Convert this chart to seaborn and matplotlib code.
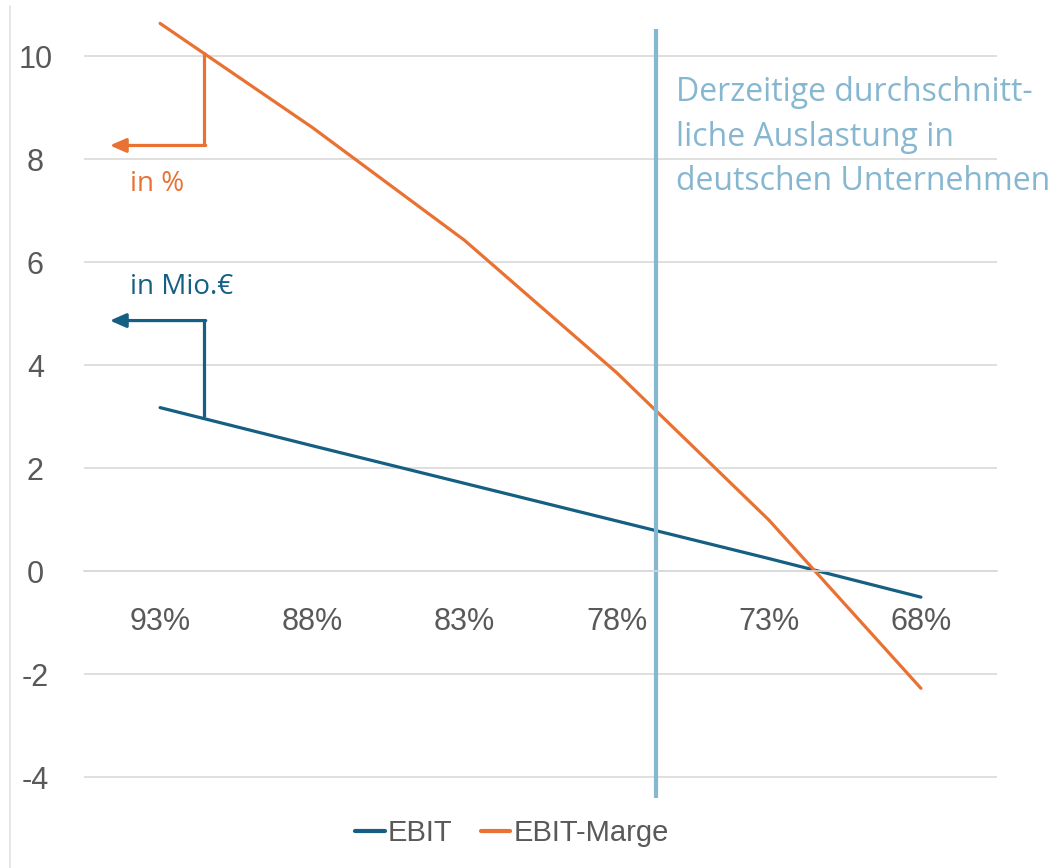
import matplotlib
matplotlib.use("Agg")
import matplotlib.pyplot as plt
from matplotlib.lines import Line2D
import pandas as pd
import seaborn as sns

# Daten
auslastung = ["93%", "88%", "83%", "78%", "73%", "68%"]
ebit = [3.18, 2.44, 1.71, 0.98, 0.25, -0.50]           # in Mio.€
ebit_marge = [10.64, 8.62, 6.43, 3.86, 1.00, -2.27]    # in %
aktuelle_auslastung = 3.26   # Position zwischen 78% und 73%

blau = "#156082"
orange = "#E97132"
hellblau = "#86B7D0"
grau = "#595959"

df = pd.DataFrame({
    "pos": list(range(len(auslastung))) * 2,
    "wert": ebit + ebit_marge,
    "serie": ["EBIT"] * len(ebit) + ["EBIT-Marge"] * len(ebit_marge),
})

sns.set_theme(style="white")
plt.rcParams["font.family"] = ["Liberation Sans", "DejaVu Sans"]

fig = plt.figure(figsize=(10.58, 8.68), dpi=100)
ax = fig.add_axes([84 / 1058, 70 / 868, 913 / 1058, 788 / 868])

sns.lineplot(data=df, x="pos", y="wert", hue="serie", palette=[blau, orange],
             linewidth=2.3, ax=ax, legend=False)

ax.set_xlim(-0.5, 5.5)
ax.set_ylim(-4.4, 10.9)
ax.set_yticks(range(-4, 11, 2))
ax.set_yticklabels([str(v) for v in range(-4, 11, 2)])
ax.set_xticks(range(len(auslastung)))
ax.set_xticklabels(auslastung)
ax.grid(axis="y", color="#d9d9d9", linewidth=1.2)
ax.set_axisbelow(True)
ax.set_xlabel("")
ax.set_ylabel("")
for s in ["top", "right", "left"]:
    ax.spines[s].set_visible(False)
ax.spines["bottom"].set_position(("data", 0))
ax.spines["bottom"].set_color("#d9d9d9")
ax.spines["bottom"].set_linewidth(1.2)
ax.tick_params(axis="x", length=0, pad=26, labelsize=22, labelcolor=grau)
ax.tick_params(axis="y", length=0, pad=35, labelsize=22, labelcolor=grau)
for lbl in ax.get_yticklabels():
    lbl.set_horizontalalignment("center")

# aktuelle Auslastung
ax.vlines(aktuelle_auslastung, -4.4, 10.54, color=hellblau, linewidth=3)
ax.text(aktuelle_auslastung + 0.13, 9.62,
        "Derzeitige durchschnitt-\nliche Auslastung in\ndeutschen Unternehmen",
        color=hellblau, fontsize=23, family=["Open Sans", "DejaVu Sans"],
        va="top", ha="left", linespacing=1.47)

# Hinweispfeile
ax.plot([0.29, 0.29], [10.08, 8.27], color=orange, linewidth=2.3, solid_capstyle="butt")
ax.annotate("", xy=(-0.33, 8.27), xytext=(0.30, 8.27),
            arrowprops=dict(arrowstyle="-|>,head_length=0.8,head_width=0.35",
                            color=orange, linewidth=2.3, shrinkA=0, shrinkB=0))
ax.text(-0.2, 7.53, "in %", color=orange, fontsize=20,
        family=["Open Sans", "DejaVu Sans"], va="center", ha="left")

ax.plot([0.29, 0.29], [2.99, 4.87], color=blau, linewidth=2.3, solid_capstyle="butt")
ax.annotate("", xy=(-0.33, 4.87), xytext=(0.30, 4.87),
            arrowprops=dict(arrowstyle="-|>,head_length=0.8,head_width=0.35",
                            color=blau, linewidth=2.3, shrinkA=0, shrinkB=0))
ax.text(-0.2, 5.53, "in Mio.€", color=blau, fontsize=20,
        family=["Open Sans", "DejaVu Sans"], va="center", ha="left")

# linker Rahmen
fig.add_artist(Line2D([10 / 1058, 10 / 1058], [0, 862 / 868], color="#e3e3e3",
                      linewidth=1.2, transform=fig.transFigure))

handles = [Line2D([0], [0], color=blau, linewidth=3),
           Line2D([0], [0], color=orange, linewidth=3)]
fig.legend(handles, ["EBIT", "EBIT-Marge"], loc="center", bbox_to_anchor=(512 / 1058, 35 / 868),
           ncol=2, frameon=False, fontsize=21, handlelength=1.0, handletextpad=0.1,
           columnspacing=1.0, labelcolor=grau)

fig.savefig("out.png", dpi=100)
